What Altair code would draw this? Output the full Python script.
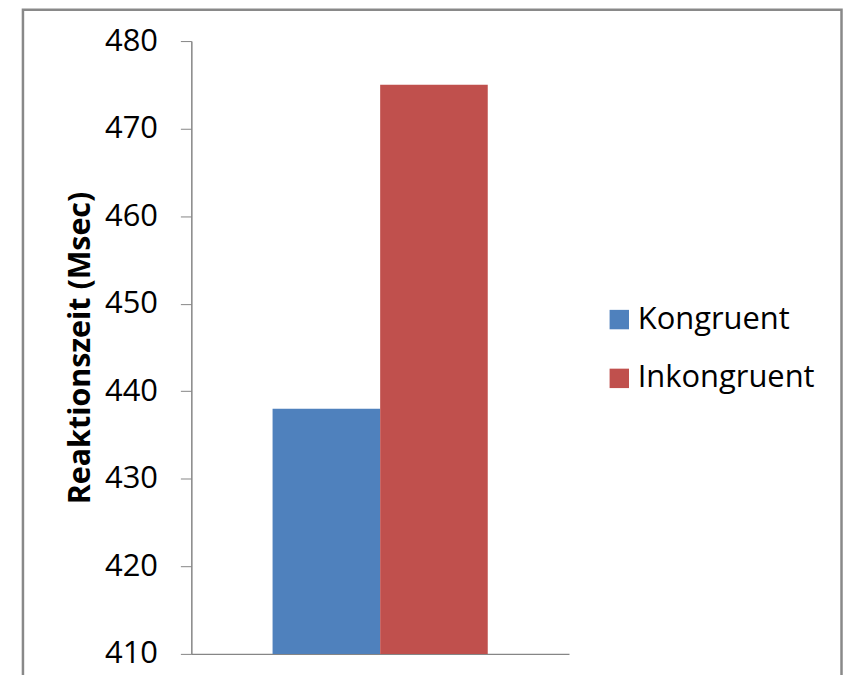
import altair as alt
import pandas as pd

conditions = ["Kongruent", "Inkongruent"]
values = [438, 475]
colors = ["#4F81BD", "#C0504D"]
y_ticks = [410, 420, 430, 440, 450, 460, 470, 480]

df = pd.DataFrame({"Bedingung": conditions, "Reaktionszeit": values})

FONT = "Open Sans"
GRAY = "#868686"

bars = alt.Chart(df).mark_bar(clip=True).encode(
    x=alt.X(
        "Bedingung:N",
        sort=conditions,
        scale=alt.Scale(paddingInner=0, paddingOuter=0.755),
        axis=alt.Axis(labels=False, ticks=False, title=None, domainColor=GRAY, domainWidth=1.5),
    ),
    y=alt.Y(
        "Reaktionszeit:Q",
        scale=alt.Scale(domain=[410, 480], nice=False, zero=False),
        axis=alt.Axis(
            values=y_ticks,
            grid=False,
            title="Reaktionszeit (Msec)",
            titleFont=FONT,
            titleFontSize=30.5,
            titleFontWeight="bold",
            titleColor="#000000",
            titlePadding=9,
            labelFont=FONT,
            labelFontSize=31,
            labelColor="#000000",
            labelPadding=23,
            tickSize=11,
            tickColor=GRAY,
            domainColor=GRAY,
            domainWidth=1.5,
        ),
    ),
    color=alt.Color(
        "Bedingung:N",
        sort=conditions,
        scale=alt.Scale(domain=conditions, range=colors),
        legend=alt.Legend(
            title=None,
            orient="none",
            legendX=414,
            legendY=264,
            symbolType="square",
            symbolSize=380,
            symbolStrokeWidth=0,
            labelFont=FONT,
            labelFontSize=31,
            labelColor="#000000",
            labelOffset=3,
            labelLimit=400,
            rowPadding=27,
            padding=0,
        ),
    ),
)

frame = alt.Chart(pd.DataFrame({"f": [0]})).mark_rect(
    fill=None, stroke="#898989", strokeWidth=2.5
).encode(
    x=alt.value(-169),
    x2=alt.value(652.5),
    y=alt.value(-31.5),
    y2=alt.value(700),
)

chart = alt.layer(frame, bars).properties(
    width=379,
    height=615,
    autosize=alt.AutoSizeParams(type="none"),
    padding={"left": 184, "top": 32, "right": 275, "bottom": 20},
).configure_view(stroke=None)

chart.save("out.html", embed_options={"renderer": "svg", "actions": False})
